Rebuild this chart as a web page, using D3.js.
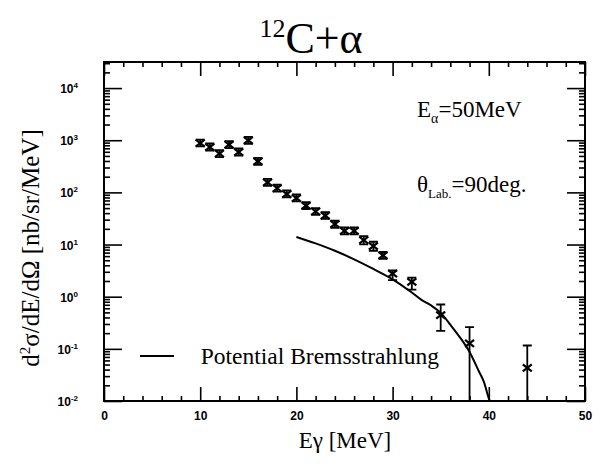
<!DOCTYPE html>
<html>
<head>
<meta charset="utf-8">
<script src="https://cdn.jsdelivr.net/npm/d3@7"></script>
<style>
  body { margin: 0; background: #fff; }
  svg text { fill: #000; }
  .tick line { stroke: #000; stroke-width: 1.6px; }
  .ticklabel { font: bold 12px "Liberation Sans", sans-serif; }
  .serif { font-family: "Liberation Serif", "Times New Roman", serif; }
</style>
</head>
<body>
<div id="chart"></div>
<script>
// measured points (E gamma in MeV, cross section in nb/sr/MeV)
var energies = [10, 11, 12, 13, 14, 15, 16, 17, 18, 19, 20, 21, 22, 23, 24, 25, 26, 27, 28, 29, 30, 32, 35, 38, 44];
var sigma    = [883, 741, 554, 824, 594, 995, 394, 156, 120, 93, 78, 56, 43, 36, 24.5, 18.2, 18.2, 12.1, 9.3, 6.2, 2.78, 1.92, 0.443, 0.127, 0.0432];
var sigmaHi  = [1030, 865, 648, 962, 694, 1160, 460, 182, 140, 109, 91, 65, 50, 42, 28.6, 21.3, 21.3, 14.5, 11.3, 7.2, 3.2, 2.33, 0.708, 0.261, 0.116];
var sigmaLo  = [760, 635, 474, 706, 509, 852, 338, 134, 103, 80, 67, 48, 37, 31, 21, 15.6, 15.6, 10.1, 7.6, 5.3, 2.07, 1.37, 0.221, null, null];

// potential bremsstrahlung calculation
var bremE     = [20, 22, 24, 26, 28, 30, 32, 33, 34, 35, 36, 37, 38, 39, 39.5, 40, 40.1];
var bremSigma = [14, 10.5, 7.6, 5.2, 3.4, 2.15, 1.2, 0.87, 0.68, 0.49, 0.29, 0.166, 0.087, 0.036, 0.023, 0.0112, 0.01];

var xMajor = [0, 10, 20, 30, 40, 50];
var xMinor = [2, 4, 6, 8, 12, 14, 16, 18, 22, 24, 26, 28, 32, 34, 36, 38, 42, 44, 46, 48];
var yExponents = [-2, -1, 0, 1, 2, 3, 4];

var width = 606, height = 466;
var margin = {left: 104, right: 21, top: 62, bottom: 65};
var x0 = margin.left, x1 = width - margin.right;
var y0 = height - margin.bottom, y1 = margin.top;

var svg = d3.select("#chart").append("svg")
    .attr("width", width)
    .attr("height", height);

var x = d3.scaleLinear().domain([0, 50]).range([x0, x1]);
var y = d3.scaleLog().domain([1e-2, Math.pow(10, 4.5)]).range([y0, y1]).clamp(true);

var yMajor = yExponents.map(function(e) { return Math.pow(10, e); });
var yMinor = [];
yExponents.forEach(function(e) {
  for (var m = 2; m <= 9; m++) {
    var v = m * Math.pow(10, e);
    if (v < y.domain()[1]) yMinor.push(v);
  }
});

function addAxis(axis, tx, ty) {
  var g = svg.append("g")
      .attr("transform", "translate(" + tx + "," + ty + ")")
      .call(axis);
  g.select(".domain").remove();
  return g;
}

// bottom
var bottomMajor = addAxis(d3.axisBottom(x).tickValues(xMajor).tickSize(-14).tickSizeOuter(0)
    .tickPadding(8).tickFormat(d3.format("d")), 0, y0);
bottomMajor.selectAll("text").attr("class", "ticklabel").attr("dy", "0.95em");
addAxis(d3.axisBottom(x).tickValues(xMinor).tickSize(-5).tickSizeOuter(0).tickFormat(""), 0, y0);
// top
addAxis(d3.axisTop(x).tickValues(xMajor).tickSize(-14).tickSizeOuter(0).tickFormat(""), 0, y1);
addAxis(d3.axisTop(x).tickValues(xMinor).tickSize(-5).tickSizeOuter(0).tickFormat(""), 0, y1);
// left
addAxis(d3.axisLeft(y).tickValues(yMajor).tickSize(-18).tickSizeOuter(0).tickFormat(""), x0, 0);
addAxis(d3.axisLeft(y).tickValues(yMinor).tickSize(-6).tickSizeOuter(0).tickFormat(""), x0, 0);
// right
addAxis(d3.axisRight(y).tickValues(yMajor).tickSize(-18).tickSizeOuter(0).tickFormat(""), x1, 0);
addAxis(d3.axisRight(y).tickValues(yMinor).tickSize(-6).tickSizeOuter(0).tickFormat(""), x1, 0);

// y tick labels 10^n
var ylab = svg.append("g").selectAll("text")
    .data(yExponents)
    .enter().append("text")
    .attr("class", "ticklabel")
    .attr("text-anchor", "end")
    .attr("x", x0 - 26)
    .attr("y", function(d) { return y(Math.pow(10, d)) + 5; });
ylab.append("tspan").text("10");
ylab.append("tspan")
    .attr("dy", -5)
    .style("font-size", "8px")
    .text(function(d) { return d; });

// frame
svg.append("rect")
    .attr("x", x0).attr("y", y1)
    .attr("width", x1 - x0).attr("height", y0 - y1)
    .attr("fill", "none")
    .attr("stroke", "#000")
    .attr("stroke-width", 2);

// bremsstrahlung curve
var line = d3.line()
    .x(function(d, i) { return x(bremE[i]); })
    .y(function(d) { return y(d); })
    .curve(d3.curveMonotoneX);

svg.append("path")
    .datum(bremSigma)
    .attr("d", line)
    .attr("fill", "none")
    .attr("stroke", "#000")
    .attr("stroke-width", 2);

// data points: error bars with caps and x marks
var pts = svg.append("g").selectAll("g")
    .data(energies)
    .enter().append("g")
    .attr("stroke", "#000")
    .attr("fill", "none");

pts.append("path")
    .attr("stroke-width", 1.8)
    .attr("d", function(d, i) {
      var cx = x(d);
      var top = y(sigmaHi[i]);
      var bot = sigmaLo[i] == null ? y0 : y(sigmaLo[i]);
      return "M" + cx + "," + top + "V" + bot +
             "M" + (cx - 4.5) + "," + top + "H" + (cx + 4.5) +
             (sigmaLo[i] == null ? "" : "M" + (cx - 4.5) + "," + bot + "H" + (cx + 4.5));
    });

pts.append("path")
    .attr("stroke-width", 2.2)
    .attr("d", function(d, i) {
      var cx = x(d), cy = y(sigma[i]);
      return "M" + (cx - 4.5) + "," + (cy - 3.5) + "L" + (cx + 4.5) + "," + (cy + 3.5) +
             "M" + (cx - 4.5) + "," + (cy + 3.5) + "L" + (cx + 4.5) + "," + (cy - 3.5);
    });

// legend
svg.append("line")
    .attr("x1", 140).attr("x2", 174)
    .attr("y1", 356).attr("y2", 356)
    .attr("stroke", "#000").attr("stroke-width", 2);
svg.append("text")
    .attr("class", "serif")
    .attr("x", 439).attr("y", 364)
    .attr("text-anchor", "end")
    .style("font-size", "23.5px")
    .text("Potential Bremsstrahlung");

// annotations
var ea = svg.append("text").attr("class", "serif")
    .attr("x", 417).attr("y", 117).style("font-size", "23px");
ea.append("tspan").text("E");
ea.append("tspan").attr("dy", 6).style("font-size", "14px").text("α");
ea.append("tspan").attr("dy", -6).text("=50MeV");

var th = svg.append("text").attr("class", "serif")
    .attr("x", 417).attr("y", 192).style("font-size", "23px");
th.append("tspan").text("θ");
th.append("tspan").attr("dy", 6).style("font-size", "13px").text("Lab.");
th.append("tspan").attr("dy", -6).text("=90deg.");

// title
var title = svg.append("text").attr("class", "serif")
    .attr("x", 311).attr("y", 53)
    .attr("text-anchor", "middle")
    .style("font-size", "44px");
title.append("tspan").attr("dy", -16).style("font-size", "26px").text("12");
title.append("tspan").attr("dy", 16).text("C+α");

// axis titles
svg.append("text").attr("class", "serif")
    .attr("x", 345).attr("y", 448)
    .attr("text-anchor", "middle")
    .style("font-size", "23px")
    .text("Eγ  [MeV]");

var yt = svg.append("text").attr("class", "serif")
    .attr("transform", "translate(39,248) rotate(-90)")
    .attr("text-anchor", "middle")
    .style("font-size", "25px");
yt.append("tspan").text("d");
yt.append("tspan").attr("dy", -9).style("font-size", "15px").text("2");
yt.append("tspan").attr("dy", 9).text("σ/dE/dΩ  [nb/sr/MeV]");
</script>
</body>
</html>
